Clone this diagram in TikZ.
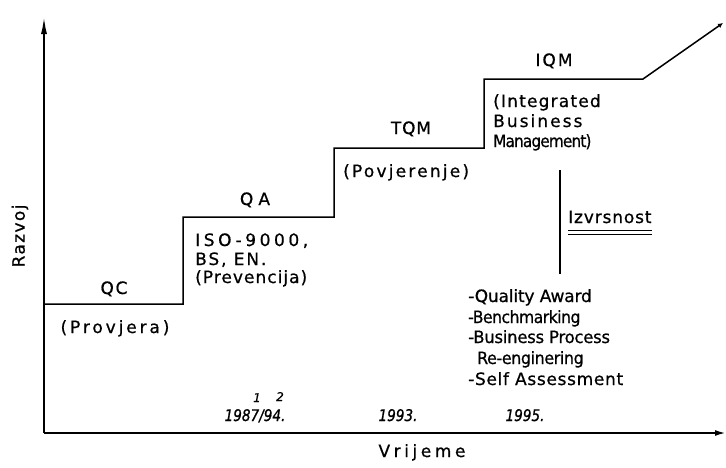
\documentclass[tikz,border=0pt]{standalone}
\usepackage{fontspec}
\setmainfont{DejaVu Sans}
\usetikzlibrary{arrows.meta}
\begin{document}
\begin{tikzpicture}[x=1pt,y=-1pt,
  lbl/.style={inner sep=0pt, font={\fontsize{17}{20}\selectfont}},
  fnt/.style 2 args={font={\fontsize{17}{20}\selectfont\addfontfeature{LetterSpace=#1,FakeStretch=#2,FakeBold=0.7}}},
  lft/.style={lbl, anchor=base west},
  ctr/.style={lbl, anchor=base},
  yr/.style={inner sep=0pt, anchor=base, font={\fontsize{16}{18}\selectfont\itshape\addfontfeature{FakeStretch=0.85,FakeBold=1}}},
  supn/.style={inner sep=0pt, anchor=base, font={\fontsize{12}{13}\selectfont\itshape\addfontfeature{FakeBold=0.8}}},
  stair/.style={line width=1.5pt, line join=miter},
  axis/.style={line width=1.2pt}]
\useasboundingbox (0,0) rectangle (726,467);
% axes
\coordinate (o) at (44,433);
\coordinate (ytop) at (44,18);
\coordinate (xend) at (725,433);
\draw[axis, -{Latex[length=16pt,width=6pt]}] (o) -- (ytop);
\draw[axis, -{Latex[length=10pt,width=6pt]}] (o) -- (xend);
% staircase
\coordinate (s0) at (44,304);
\coordinate (s1) at (183,304);
\coordinate (s2) at (183,217);
\coordinate (s3) at (334,217);
\coordinate (s4) at (334,148);
\coordinate (s5) at (484,148);
\coordinate (s6) at (484,79);
\coordinate (s7) at (643,79);
\coordinate (s8) at (723,23);
\draw[stair, -{Latex[length=5pt,width=5pt]}] (s0) -- (s1) -- (s2) -- (s3) -- (s4) -- (s5) -- (s6) -- (s7) -- (s8);
% labels
\node[ctr, fnt={10}{1}] (qc) at (114,294) {QC};
\node[ctr, fnt={17}{1}] (provjera) at (115,333) {(Provjera)};
\node[ctr, fnt={30}{1}] (qa) at (255,205) {QA};
\node[lft, fnt={21}{1}] (iso) at (195,246) {ISO-9000,};
\node[lft, fnt={11}{1}] (bs) at (195,265) {BS, EN.};
\node[lft, fnt={6}{1}] (prev) at (195,283) {(Prevencija)};
\node[ctr, fnt={5}{1}] (tqm) at (411,134) {TQM};
\node[lft, fnt={13}{1}] (povj) at (343,177) {(Povjerenje)};
\node[ctr, fnt={12}{1}] (iqm) at (554,66) {IQM};
\node[lft, fnt={7}{1}] (integ) at (493,107) {(Integrated};
\node[lft, fnt={12}{1}] (busi) at (493,127) {Business};
\node[lft, fnt={-5}{0.9}] (mana) at (493,147) {Management)};
% Izvrsnost
\coordinate (vt) at (560,170);
\coordinate (vb) at (560,274);
\draw[line width=1.3pt] (vt) -- (vb);
\node[lft, fnt={5}{1}] (izv) at (568,223) {Izvrsnost};
\coordinate (u1) at (568,230);
\coordinate (u2) at (568,234);
\draw[line width=0.8pt] (u1) -- ++(84,0);
\draw[line width=0.8pt] (u2) -- ++(84,0);
\node[lft, fnt={-1}{1}] (qaw) at (468,302) {-Quality Award};
\node[lft, fnt={-3}{0.92}] (bench) at (468,323) {-Benchmarking};
\node[lft, fnt={-1}{0.96}] (bpr) at (468,343) {-Business Process};
\node[lft, fnt={-2}{0.93}] (reeng) at (477,364) {Re-enginering};
\node[lft, fnt={4}{1}] (self) at (468,385) {-Self Assessment};
% years
\node[yr] (y1) at (255,421) {1987/94.};
\node[supn] (n1) at (257,402) {1};
\node[supn] (n2) at (280,401) {2};
\node[yr] (y2) at (398,421) {1993.};
\node[yr] (y3) at (525,421) {1995.};
% axis labels
\node[ctr, fnt={21}{1}] (vrij) at (422,457) {Vrijeme};
\node[lbl, fnt={8}{1}, rotate=90] (razvoj) at (20,236) {Razvoj};
\end{tikzpicture}
\end{document}
